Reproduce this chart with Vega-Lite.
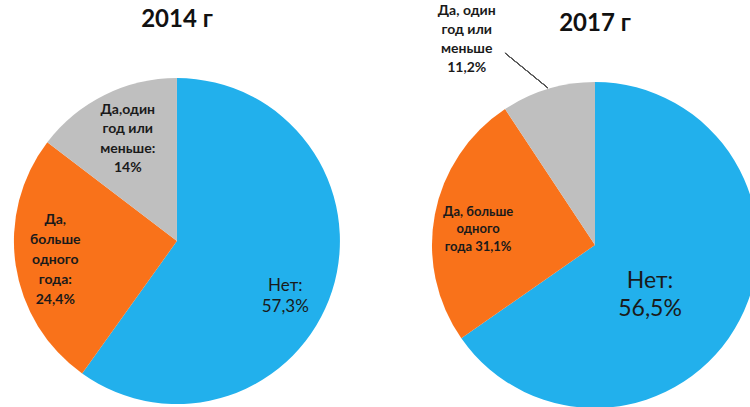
{
  "$schema": "https://vega.github.io/schema/vega-lite/v6.json",
  "width": 750,
  "height": 407,
  "padding": 0,
  "autosize": {"type": "none"},
  "background": "white",
  "config": {"view": {"stroke": null}, "font": "Lato"},
  "datasets": {
    "pies": [
      {"year": "2014", "cat": "Нет", "ord": 1, "share": 57.3, "label": "Нет:\n57,3%"},
      {"year": "2014", "cat": "Да, больше одного года", "ord": 2, "share": 24.4, "label": "Да,\nбольше\nодного\nгода:\n24,4%"},
      {"year": "2014", "cat": "Да, один год или меньше", "ord": 3, "share": 14.0, "label": "Да,один\nгод или\nменьше:\n14%"},
      {"year": "2017", "cat": "Нет", "ord": 1, "share": 65.3, "label": "Нет:\n56,5%"},
      {"year": "2017", "cat": "Да, больше одного года", "ord": 2, "share": 25.4, "label": "Да, больше\nодного\nгода 31,1%"},
      {"year": "2017", "cat": "Да, один год или меньше", "ord": 3, "share": 9.3, "label": "Да, один\nгод или\nменьше\n11,2%"}
    ],
    "titles": [
      {"year": "2014", "title": "2014 г"},
      {"year": "2017", "title": "2017 г"}
    ]
  },
  "data": {"name": "pies"},
  "encoding": {
    "x": {"field": "year", "type": "nominal", "axis": null, "scale": {"type": "point", "domain": ["2014", "2017"], "padding": 0.397, "align": 0.533}},
    "y": {"field": "year", "type": "nominal", "axis": null, "scale": {"type": "point", "domain": ["2014", "2017"], "padding": 0, "range": [241, 245]}}
  },
  "layer": [
    {
      "transform": [{"filter": "datum.year === '2014'"}],
      "mark": {"type": "arc", "radius": 163},
      "encoding": {
        "theta": {"field": "share", "type": "quantitative", "stack": true},
        "order": {"field": "ord", "type": "quantitative"},
        "color": {"field": "cat", "type": "nominal", "legend": null, "scale": {"domain": ["Нет", "Да, больше одного года", "Да, один год или меньше"], "range": ["#22B0EC", "#F9721A", "#BFBFBF"]}}
      }
    },
    {
      "transform": [{"filter": "datum.year === '2017'"}],
      "mark": {"type": "arc", "radius": 163},
      "encoding": {
        "theta": {"field": "share", "type": "quantitative", "stack": true},
        "order": {"field": "ord", "type": "quantitative"},
        "color": {"field": "cat", "type": "nominal", "legend": null}
      }
    },
    {
      "transform": [{"filter": "datum.year === '2014'"}],
      "mark": {"type": "text", "radius": 118, "dx": -4, "dy": 9, "fontSize": 17, "lineHeight": 21, "lineBreak": "\n", "color": "#1a1a1a"},
      "encoding": {
        "theta": {"field": "share", "type": "quantitative", "stack": true},
        "order": {"field": "ord", "type": "quantitative"},
        "text": {"condition": {"test": "datum.cat === 'Нет'", "field": "label"}, "value": ""}
      }
    },
    {
      "transform": [{"filter": "datum.year === '2014'"}],
      "mark": {"type": "text", "radius": 123, "dy": -39, "fontSize": 14, "fontWeight": "bold", "lineHeight": 20, "lineBreak": "\n", "color": "#1a1a1a"},
      "encoding": {
        "theta": {"field": "share", "type": "quantitative", "stack": true},
        "order": {"field": "ord", "type": "quantitative"},
        "text": {"condition": {"test": "datum.cat === 'Да, больше одного года'", "field": "label"}, "value": ""}
      }
    },
    {
      "transform": [{"filter": "datum.year === '2014'"}],
      "mark": {"type": "text", "radius": 113, "dx": 1, "dy": -30, "fontSize": 14, "fontWeight": "bold", "lineHeight": 19.5, "lineBreak": "\n", "color": "#1a1a1a"},
      "encoding": {
        "theta": {"field": "share", "type": "quantitative", "stack": true},
        "order": {"field": "ord", "type": "quantitative"},
        "text": {"condition": {"test": "datum.cat === 'Да, один год или меньше'", "field": "label"}, "value": ""}
      }
    },
    {
      "transform": [{"filter": "datum.year === '2017'"}],
      "mark": {"type": "text", "radius": 70, "dx": -7, "dy": 4, "fontSize": 23, "lineHeight": 28, "lineBreak": "\n", "color": "#1a1a1a"},
      "encoding": {
        "theta": {"field": "share", "type": "quantitative", "stack": true},
        "order": {"field": "ord", "type": "quantitative"},
        "text": {"condition": {"test": "datum.cat === 'Нет'", "field": "label"}, "value": ""}
      }
    },
    {
      "transform": [{"filter": "datum.year === '2017'"}],
      "mark": {"type": "text", "radius": 119, "dy": -11, "fontSize": 13, "fontWeight": "bold", "lineHeight": 17.5, "lineBreak": "\n", "color": "#1a1a1a"},
      "encoding": {
        "theta": {"field": "share", "type": "quantitative", "stack": true},
        "order": {"field": "ord", "type": "quantitative"},
        "text": {"condition": {"test": "datum.cat === 'Да, больше одного года'", "field": "label"}, "value": ""}
      }
    },
    {
      "transform": [{"filter": "datum.year === '2017'"}],
      "mark": {"type": "text", "radius": 216, "dx": -66, "dy": -27, "fontSize": 14, "fontWeight": "bold", "lineHeight": 19, "lineBreak": "\n", "color": "#1a1a1a"},
      "encoding": {
        "theta": {"field": "share", "type": "quantitative", "stack": true},
        "order": {"field": "ord", "type": "quantitative"},
        "text": {"condition": {"test": "datum.cat === 'Да, один год или меньше'", "field": "label"}, "value": ""}
      }
    },
    {
      "mark": {"type": "rule", "color": "#555555", "strokeWidth": 1, "xOffset": -90, "x2Offset": -47, "yOffset": -192, "y2Offset": -157},
      "encoding": {
        "x": {"datum": "2017", "type": "nominal"},
        "x2": {"datum": "2017"},
        "y": {"datum": "2017", "type": "nominal"},
        "y2": {"datum": "2017"}
      }
    },
    {
      "data": {"name": "titles"},
      "mark": {"type": "text", "dy": -221, "fontSize": 24, "fontWeight": "bold", "color": "#111111"},
      "encoding": {
        "text": {"field": "title", "type": "nominal"}
      }
    }
  ],
  "resolve": {"scale": {"theta": "independent"}}
}
